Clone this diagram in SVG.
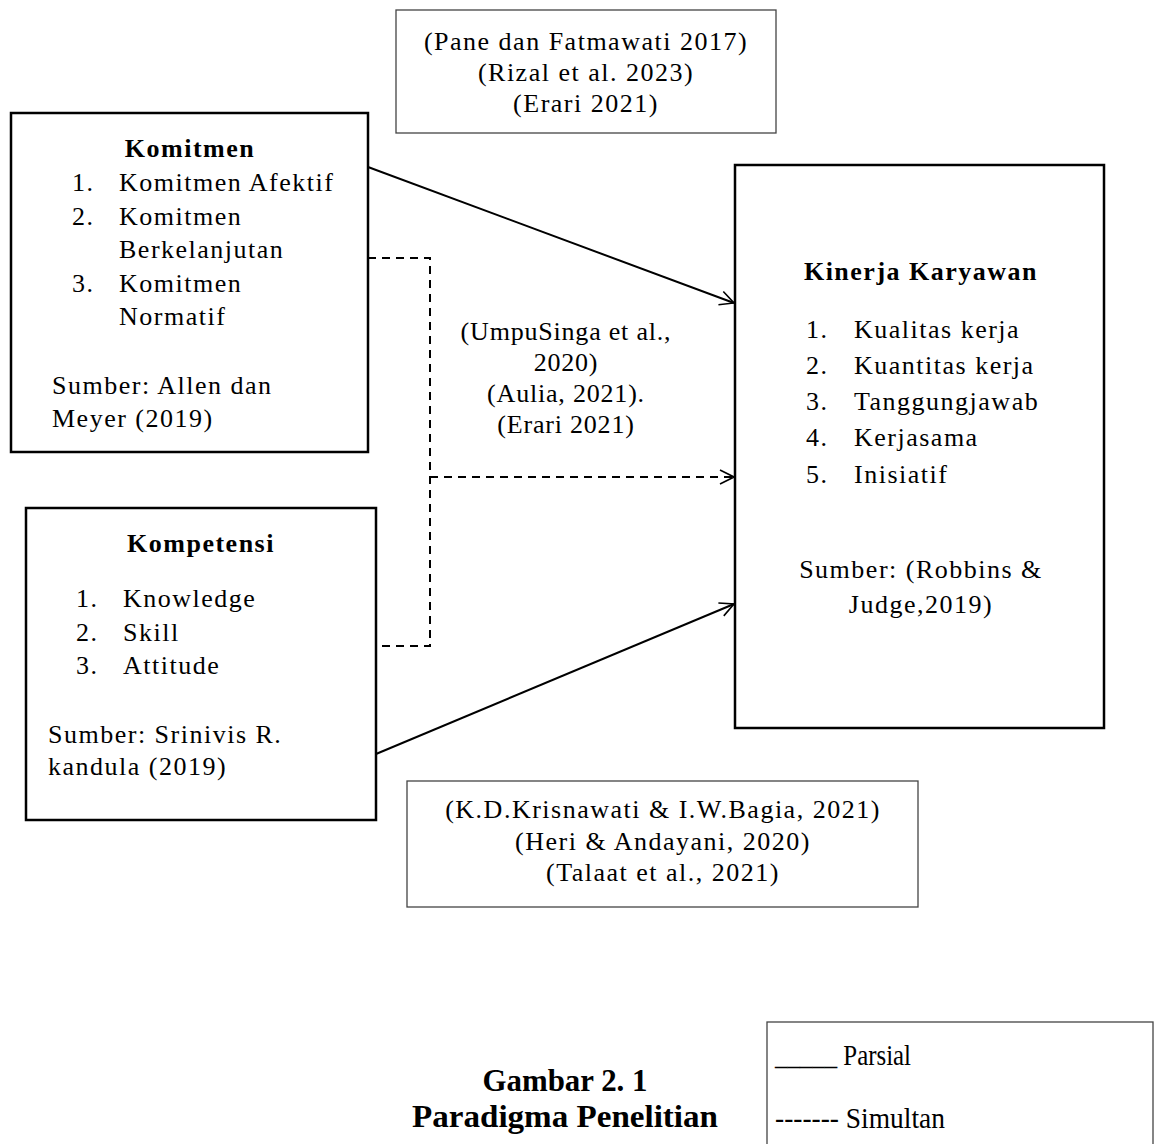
<svg xmlns="http://www.w3.org/2000/svg" width="1155" height="1144" viewBox="0 0 1155 1144">
<style>
text{font-family:"Liberation Serif","Times New Roman",serif;font-size:26px;letter-spacing:1.5px;fill:#000}
.b{font-weight:bold}
.m{text-anchor:middle}
.box{fill:none;stroke:#000;stroke-width:2.5}
.cbox{fill:none;stroke:#444;stroke-width:1.3}
.solid{fill:none;stroke:#000;stroke-width:2}
.dash{fill:none;stroke:#000;stroke-width:2;stroke-dasharray:8,6}
.cap{font-family:"Liberation Serif","Times New Roman",serif;font-size:32px;letter-spacing:0}
.leg{font-family:"Liberation Serif","Times New Roman",serif;font-size:29px;letter-spacing:0}
.mid{letter-spacing:0.8px}
</style>
<defs>
<marker id="arr" markerUnits="userSpaceOnUse" viewBox="0 0 16 16" markerWidth="16" markerHeight="16" refX="15" refY="8" orient="auto">
<path d="M1,1 L15,8 L1,15" fill="none" stroke="#000" stroke-width="1.6"/>
</marker>
</defs>
<rect width="1155" height="1144" fill="#fff"/>

<g id="ref-top">
<rect class="cbox" x="396" y="10" width="380" height="123"/>
<text class="m" x="586" y="50">(Pane dan Fatmawati 2017)</text>
<text class="m" x="586" y="81">(Rizal et al. 2023)</text>
<text class="m" x="586" y="112">(Erari 2021)</text>
</g>

<g id="komitmen">
<rect class="box" x="11" y="113" width="357" height="339"/>
<text class="b m" x="190" y="157">Komitmen</text>
<text x="72" y="191">1.</text><text x="119" y="191">Komitmen Afektif</text>
<text x="72" y="225">2.</text><text x="119" y="225">Komitmen</text>
<text x="119" y="258">Berkelanjutan</text>
<text x="72" y="292">3.</text><text x="119" y="292">Komitmen</text>
<text x="119" y="325">Normatif</text>
<text x="52" y="394">Sumber: Allen dan</text>
<text x="52" y="427">Meyer (2019)</text>
</g>

<g id="kompetensi">
<rect class="box" x="26" y="508" width="350" height="312"/>
<text class="b m" x="201" y="552">Kompetensi</text>
<text x="76" y="607">1.</text><text x="123" y="607">Knowledge</text>
<text x="76" y="641">2.</text><text x="123" y="641">Skill</text>
<text x="76" y="674">3.</text><text x="123" y="674">Attitude</text>
<text x="48" y="743">Sumber: Srinivis R.</text>
<text x="48" y="775">kandula (2019)</text>
</g>

<g id="kinerja">
<rect class="box" x="735" y="165" width="369" height="563"/>
<text class="b m" x="921" y="280">Kinerja Karyawan</text>
<text x="806" y="338">1.</text><text x="854" y="338">Kualitas kerja</text>
<text x="806" y="374">2.</text><text x="854" y="374">Kuantitas kerja</text>
<text x="806" y="410">3.</text><text x="854" y="410">Tanggungjawab</text>
<text x="806" y="446">4.</text><text x="854" y="446">Kerjasama</text>
<text x="806" y="483">5.</text><text x="854" y="483">Inisiatif</text>
<text class="m" x="921" y="578">Sumber: (Robbins &amp;</text>
<text class="m" x="921" y="613">Judge,2019)</text>
</g>

<g id="ref-mid">
<text class="m mid" x="566" y="340">(UmpuSinga et al.,</text>
<text class="m mid" x="566" y="371">2020)</text>
<text class="m mid" x="566" y="402">(Aulia, 2021).</text>
<text class="m mid" x="566" y="433">(Erari 2021)</text>
</g>

<g id="ref-bottom">
<rect class="cbox" x="407" y="781" width="511" height="126"/>
<text class="m" x="663" y="818">(K.D.Krisnawati &amp; I.W.Bagia, 2021)</text>
<text class="m" x="663" y="850">(Heri &amp; Andayani, 2020)</text>
<text class="m" x="663" y="881">(Talaat et al., 2021)</text>
</g>

<g id="connectors">
<line class="solid" x1="368" y1="167" x2="734" y2="303" marker-end="url(#arr)"/>
<line class="solid" x1="376" y1="754" x2="734" y2="604" marker-end="url(#arr)"/>
<polyline class="dash" points="368,258 430,258 430,646 376,646"/>
<line class="dash" x1="430" y1="477" x2="734" y2="477" marker-end="url(#arr)"/>
</g>

<g id="caption">
<text class="b m cap" x="565" y="1091" textLength="165" lengthAdjust="spacingAndGlyphs">Gambar 2. 1</text>
<text class="b m cap" x="565" y="1127" textLength="306" lengthAdjust="spacingAndGlyphs">Paradigma Penelitian</text>
</g>

<g id="legend">
<rect class="cbox" x="767" y="1022" width="386" height="130"/>
<text class="leg" x="775" y="1065" textLength="136" lengthAdjust="spacingAndGlyphs">_____ Parsial</text>
<text class="leg" x="775" y="1128" textLength="170" lengthAdjust="spacingAndGlyphs">------- Simultan</text>
</g>
</svg>
